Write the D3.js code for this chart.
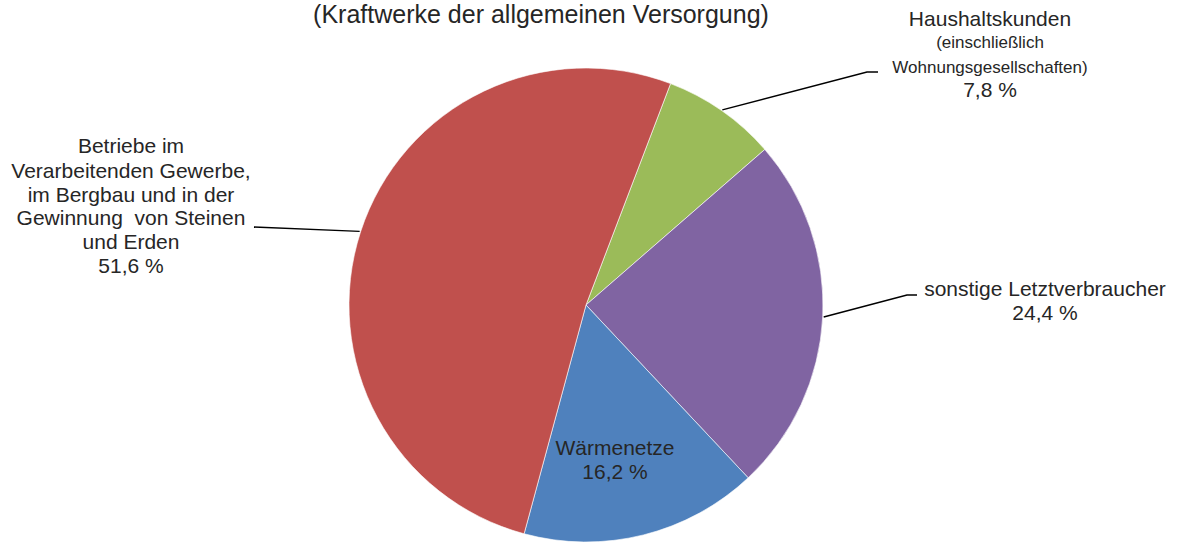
<!DOCTYPE html>
<html>
<head>
<meta charset="utf-8">
<script src="https://cdn.jsdelivr.net/npm/d3@7"></script>
<style>
  html, body { margin: 0; padding: 0; background: #fff; }
  svg text { font-family: "Liberation Sans", Arial, sans-serif; fill: #262626; white-space: pre; }
</style>
</head>
<body>
<div class="chart"></div>
<script>
// data
const categories = ['Haushaltskunden', 'sonstige Letztverbraucher', 'Wärmenetze', 'Betriebe']
const values = [7.8, 24.4, 16.2, 51.6]
const colors = ['#9BBB59', '#8064A2', '#4F81BD', '#C0504D']
const labelLines = [
  [['Haushaltskunden', 21], ['(einschließlich', 17], ['Wohnungsgesellschaften)', 17], ['7,8 %', 21]],
  [['sonstige Letztverbraucher', 21], ['24,4 %', 21]],
  [['Wärmenetze', 21], ['16,2 %', 21]],
  [['Betriebe im', 21], ['Verarbeitenden Gewerbe,', 21], ['im Bergbau und in der', 21], ['Gewinnung  von Steinen', 21], ['und Erden', 21], ['51,6 %', 21]]
]
const title = '(Kraftwerke der allgemeinen Versorgung)'

const w = 1178, h = 542
const cx = 586, cy = 305, r = 237

// label layout: x centre, first baseline, line gaps, leader elbow
const labelPos = [
  {x: 990, y: 26, gaps: [22, 25, 24], elbow: [867, 72], end: [878, 72]},
  {x: 1045, y: 296, gaps: [24], elbow: [907, 295], end: [917, 295]},
  {x: 615, y: 455, gaps: [24]},
  {x: 131, y: 153, gaps: [25, 24, 23, 24, 24], elbow: [254, 227], end: [254, 227]}
]

const svg = d3.select('.chart').append('svg')
  .attr('width', w)
  .attr('height', h)

svg.append('text')
  .attr('x', 541)
  .attr('y', 23)
  .attr('text-anchor', 'middle')
  .style('font-size', '25px')
  .text(title)

const startRot = 20.9 * Math.PI / 180

const pie = d3.pie()
  .sort(null)
  .startAngle(startRot)
  .endAngle(startRot + 2 * Math.PI)
  .value(d => d)

const arc = d3.arc().innerRadius(0).outerRadius(r)

const arcs = pie(values)

const g = svg.append('g').attr('transform', `translate(${cx},${cy})`)

g.selectAll('path.slice')
  .data(arcs)
  .enter().append('path')
  .attr('class', 'slice')
  .attr('d', arc)
  .attr('fill', (d, i) => colors[i])
  .attr('stroke', '#fff')
  .attr('stroke-width', 0.6)

// leader lines
arcs.forEach((d, i) => {
  const p = labelPos[i]
  if (!p.elbow) return
  const mid = (d.startAngle + d.endAngle) / 2
  const sx = cx + Math.sin(mid) * (r + 1)
  const sy = cy - Math.cos(mid) * (r + 1)
  svg.append('path')
    .attr('d', d3.line()([[sx, sy], p.elbow, p.end]))
    .attr('fill', 'none')
    .attr('stroke', '#000')
    .attr('stroke-width', 1.5)
})

// labels
labelLines.forEach((lines, i) => {
  const p = labelPos[i]
  const t = svg.append('text')
    .attr('text-anchor', 'middle')
  let y = p.y
  lines.forEach((l, j) => {
    if (j > 0) y += p.gaps[j - 1]
    t.append('tspan')
      .attr('x', p.x)
      .attr('y', y)
      .style('font-size', l[1] + 'px')
      .text(l[0])
  })
})
</script>
</body>
</html>
